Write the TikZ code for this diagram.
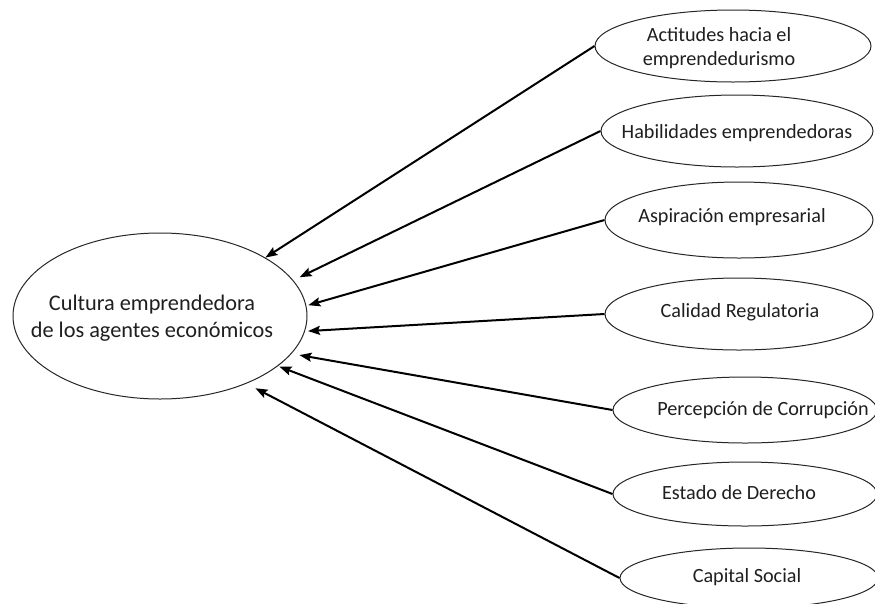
\documentclass[tikz,border=0pt]{standalone}
\usepackage{fontspec}
\setmainfont{Carlito}
\usetikzlibrary{shapes.geometric,arrows.meta}
\begin{document}
\begin{tikzpicture}[x=1pt,y=-1pt,
  oval/.style={draw=black!85,line width=1pt,ellipse,inner sep=0pt,fill=white},
  smalltxt/.style={font=\fontsize{20.2}{23.5}\selectfont,align=center,inner sep=0pt,text=black!88},
  bigtxt/.style={font=\fontsize{22.3}{27}\selectfont,align=center,inner sep=0pt,text=black!88},
  link/.style={line width=2pt,-{Stealth[length=12pt,width=9pt,inset=2pt]}}]
\useasboundingbox (0,0) rectangle (875,603);

% central construct
\node[oval,minimum width=294pt,minimum height=166pt] (c) at (160,316) {};
\node[bigtxt] (ct) at (152,318) {Cultura emprendedora\\de los agentes económicos};

% dimensions
\node[oval,minimum width=276pt,minimum height=72pt] (a1) at (733,46) {};
\node[oval,minimum width=272pt,minimum height=72pt] (a2) at (737,131) {};
\node[oval,minimum width=268pt,minimum height=76pt] (a3) at (739,220) {};
\node[oval,minimum width=268pt,minimum height=72pt] (a4) at (739,314) {};
\node[oval,minimum width=264pt,minimum height=66pt] (a5) at (745,410) {};
\node[oval,minimum width=264pt,minimum height=64pt] (a6) at (745,494) {};
\node[oval,minimum width=258pt,minimum height=60pt] (a7) at (749,578) {};

\node[smalltxt] (t1) at (719,48) {Actitudes hacia el\\emprendedurismo};
\node[smalltxt] (t2) at (737,133) {Habilidades emprendedoras};
\node[smalltxt] (t3) at (732,217) {Aspiración empresarial};
\node[smalltxt] (t4) at (740,312) {Calidad Regulatoria};
\node[smalltxt] (t5) at (763,410) {Percepción de Corrupción};
\node[smalltxt] (t6) at (739,493) {Estado de Derecho};
\node[smalltxt] (t7) at (747,577) {Capital Social};

% influences on the central construct
\draw[link] (a1.west) -- (c.29.3);
\draw[link,shorten >=7pt] (a2.west) -- (c.15.8);
\draw[link,shorten >=2pt] (a3.west) -- (c.4.2);
\draw[link,shorten >=3pt] (a4.west) -- (c.-6.6);
\draw[link,shorten >=8pt] (a5.west) -- (c.-16.2);
\draw[link,shorten >=1.5pt] (a6.west) -- (c.-23.4);
\draw[link,shorten >=10pt] (a7.west) -- (c.-38.2);
\end{tikzpicture}
\end{document}
